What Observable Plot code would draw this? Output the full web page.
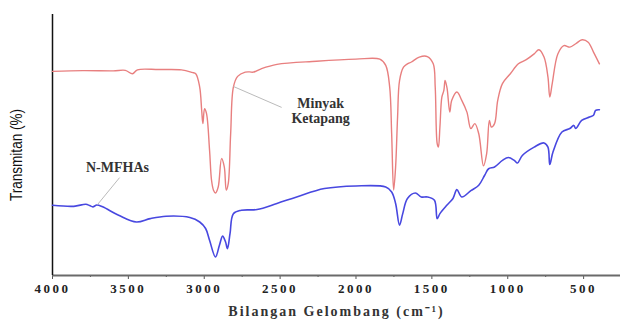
<!DOCTYPE html>
<html>
<head>
<meta charset="utf-8">
<script src="https://cdn.jsdelivr.net/npm/d3@7"></script>
<script src="https://cdn.jsdelivr.net/npm/@observablehq/plot@0.6"></script>
<style>
  html, body { margin: 0; padding: 0; background: #fff; }
  #chart svg { overflow: visible; }
  #chart [aria-label="x-axis tick label"] text { letter-spacing: 2.5px; }
  #chart [aria-label="x-axis label"] text { letter-spacing: 2px; font-size: 14px; font-weight: bold; fill: #333; }
</style>
</head>
<body>
<div id="chart"></div>
<script>
// Wavenumbers (cm^-1) and transmittance (arbitrary %) for the two spectra
const redWave = [4000,3800,3600,3520,3473,3440,3300,3150,3080,3056,3030,3017,3009,2998,2985,2965,2952,2939,2926,2908,2886,2868,2855,2842,2826,2808,2780,2730,2700,2678,2625,2521,2260,2000,1843,1804,1778,1765,1752,1739,1726,1713,1687,1661,1635,1583,1530,1491,1478,1465,1457,1447,1434,1421,1413,1400,1382,1369,1335,1303,1269,1243,1217,1191,1160,1139,1121,1108,1087,1066,1035,983,930,878,826,795,761,735,723,707,670,630,591,552,510,470,435,396];
const redT =    [78.2,78.5,78.4,78.6,77.3,78.8,78.9,78.8,77.8,77.3,72.2,63.3,58.2,63.9,62.0,48.0,36.5,32.7,31.6,33.9,44.8,41.6,32.7,35.2,54.3,72.2,76.3,77.9,78.0,77.9,79.2,80.9,82.1,82.9,82.9,80.5,72.2,54.3,32.7,41.6,60.7,74.7,79.8,81.1,81.8,83.7,83.9,81.1,72.2,50.5,49.2,56.9,68.4,70.9,74.7,71.8,62.6,67.1,70.3,67.1,62.6,56.3,58.2,54.3,42.0,46.7,59.4,56.9,58.2,67.1,73.5,77.3,81.1,82.7,84.9,86.5,83.7,76.0,68.4,73.5,84.9,88.1,87.5,88.8,90.3,89.4,85.6,81.1];

const blueWave = [4000,3860,3780,3755,3734,3708,3670,3564,3447,3356,3251,3095,3030,2991,2965,2926,2900,2879,2860,2847,2830,2808,2756,2652,2521,2391,2208,2000,1804,1765,1739,1713,1692,1661,1609,1570,1530,1483,1465,1447,1400,1361,1335,1303,1243,1191,1152,1126,1087,1035,996,957,936,904,826,761,735,723,702,643,591,565,552,513,461,435,421,396];
const blueT =    [26.9,26.5,27.3,26.8,26.3,27.0,26.3,23.1,20.5,21.8,22.7,22.2,20.5,18.0,13.5,7.1,11.6,15.1,12.9,10.3,16.1,23.7,25.0,25.3,27.6,30.1,33.3,34.3,33.9,32.0,27.6,19.3,23.7,29.5,31.6,30.1,30.1,28.8,21.8,23.7,27.0,29.5,32.9,30.1,32.5,34.6,38.4,40.9,41.6,44.1,45.2,44.1,43.1,46.0,49.2,50.8,49.2,42.5,47.3,55.0,56.3,57.5,56.3,59.4,60.7,61.4,63.3,63.5];

const majorTicks = [4000,3500,3000,2500,2000,1500,1000,500];
const minorTicks = [3750,3250,2750,2250,1750,1250,750];

const seriesNames = ["Minyak Ketapang","N-MFHAs"];
const labelLines = [
  {text:"Minyak", w:2233, t:66.0},
  {text:"Ketapang", w:2233, t:60.2},
  {text:"N-MFHAs", w:3572, t:41.4}
];
const leaders = [
  {w1:2807, t1:72.4, w2:2490, t2:64.4},
  {w1:3703, t1:27.2, w2:3558, t2:37.5}
];

const red = redWave.map((w,i)=>({w, t:redT[i]}));
const blue = blueWave.map((w,i)=>({w, t:blueT[i]}));

const serif = "'Liberation Serif','Times New Roman',serif";

const plot = Plot.plot({
  width: 620,
  height: 322,
  marginLeft: 52,
  marginRight: 0,
  marginTop: 14,
  marginBottom: 47,
  style: {background: "#fff", fontFamily: serif},
  x: {domain: [4000, 257]},
  y: {domain: [0, 100], axis: null},
  marks: [
    Plot.axisX({ticks: minorTicks, tickSize: 2, tickFormat: () => "", stroke: "#555", label: null}),
    Plot.axisX({ticks: majorTicks, tickSize: 4, tickPadding: 4, tickFormat: d => String(d),
      fontSize: 13, fontWeight: "bold", fill: "#222", stroke: "#555",
      label: "Bilangan Gelombang (cm⁻¹)", labelAnchor: "center", labelOffset: 40, labelArrow: "none"}),
    Plot.ruleY([0], {stroke: "#6a6a6a", strokeWidth: 2}),
    Plot.ruleX([4000], {y1: 0, y2: 100, stroke: "#111", strokeWidth: 1.5}),
    Plot.line(red, {x: "w", y: "t", stroke: "#e87f7f", strokeWidth: 1.4, curve: "catmull-rom"}),
    Plot.line(blue, {x: "w", y: "t", stroke: "#4848e0", strokeWidth: 1.6, curve: "catmull-rom"}),
    Plot.link(leaders, {x1: "w1", y1: "t1", x2: "w2", y2: "t2", stroke: "#bbb", strokeWidth: 1}),
    Plot.text(labelLines, {x: "w", y: "t", text: "text", fontSize: 14, fontWeight: "bold",
      fill: "#333", fontFamily: serif, style: "letter-spacing:1.5px"}),
    Plot.text(["Transmitan (%)"], {frameAnchor: "left", textAnchor: "middle", dx: -36, dy: 10, rotate: -90,
      fontSize: 16, fill: "#111", fontFamily: "'Liberation Sans','Arial',sans-serif"})
  ]
});
d3.select(plot).selectAll("text").filter(function(){ return this.textContent === "Transmitan (%)"; })
  .attr("textLength", 92).attr("lengthAdjust", "spacingAndGlyphs");
document.getElementById("chart").appendChild(plot);
</script>
</body>
</html>
